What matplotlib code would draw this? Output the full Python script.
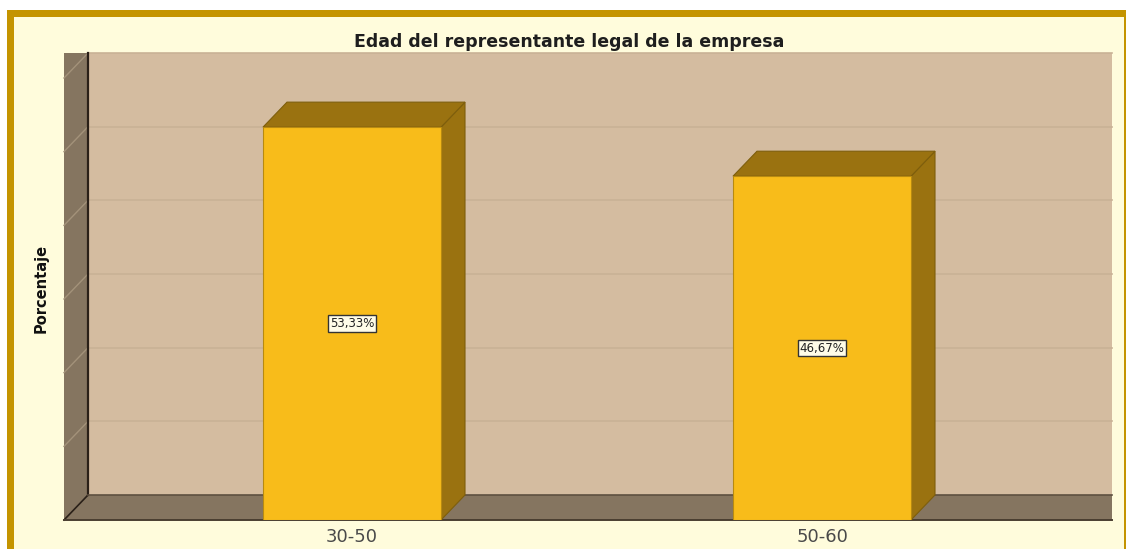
import matplotlib
matplotlib.use('Agg')
import matplotlib.pyplot as plt
from matplotlib.patches import Polygon, Rectangle

categorias = ['30-50', '50-60']
porcentajes = [53.33, 46.67]
etiquetas = ['53,33%', '46,67%']
titulo = 'Edad del representante legal de la empresa'
ylabel = 'Porcentaje'

W, H, DPI = 1126, 549, 100
fig = plt.figure(figsize=(W / DPI, H / DPI), dpi=DPI)
fig.patch.set_facecolor('white')

# marco dorado y fondo crema
fig.patches.append(Rectangle((7 / W, 0), (1126 - 7) / W, (549 - 10) / H,
                             transform=fig.transFigure, facecolor='#C49400',
                             edgecolor='none', zorder=-20))
fig.patches.append(Rectangle((14 / W, 0), (1124 - 14) / W, (549 - 17) / H,
                             transform=fig.transFigure, facecolor='#FFFCDC',
                             edgecolor='none', zorder=-10))

# ejes: frente del suelo en px 520, x de 64 a 1112
left, right, bottom, top = 64, 1112, 520, 78
ax = fig.add_axes([left / W, 1 - bottom / H, (right - left) / W, (bottom - top) / H])
ax.set_facecolor('none')
x = list(range(len(categorias)))
xmin = -(352 - left) / 470
xmax = 1 + (right - 822) / 470
ymax = 60
ax.set_xlim(xmin, xmax)
ax.set_ylim(0, ymax)
for s in ax.spines.values():
    s.set_visible(False)

# profundidad 3D en unidades de datos
ddx = 24 * (xmax - xmin) / (right - left)
ddy = 25 * ymax / (bottom - top)

wall = '#D4BCA0'
side = '#857560'
ax.add_patch(Rectangle((xmin + ddx, ddy), xmax - xmin - ddx, ymax, facecolor=wall,
                       edgecolor='none', zorder=1, clip_on=False))
ax.add_patch(Polygon([(xmin, 0), (xmin + ddx, ddy), (xmin + ddx, ymax + ddy), (xmin, ymax + ddy)],
                     closed=True, facecolor=side, edgecolor='none', zorder=1, clip_on=False))
ax.add_patch(Polygon([(xmin, 0), (xmax, 0), (xmax, ddy), (xmin + ddx, ddy)],
                     closed=True, facecolor=side, edgecolor='none', zorder=1, clip_on=False))

for v in range(10, ymax + 1, 10):
    ax.plot([xmin + ddx, xmax], [v + ddy, v + ddy], color='#C9B296', lw=1.2, zorder=2, clip_on=False)
    ax.plot([xmin, xmin + ddx], [v, v + ddy], color='#A3927A', lw=1, zorder=2, clip_on=False)

ax.plot([xmin + ddx, xmin + ddx], [ddy, ymax + ddy], color='#2A2018', lw=1.6, zorder=3, clip_on=False)
ax.plot([xmin, xmin + ddx], [0, ddy], color='#2A2018', lw=1.2, zorder=3, clip_on=False)
ax.plot([xmin + ddx, xmax], [ddy, ddy], color='#5E5040', lw=1.2, zorder=3, clip_on=False)
ax.plot([xmin, xmax], [0, 0], color='#4A3E30', lw=1.4, zorder=3, clip_on=False)

# barras
bw = 178 / 470
front = '#F8BC1A'
dark = '#9A7210'
ax.bar(x, porcentajes, width=bw, color=front, edgecolor='#B88A10', linewidth=0.8, zorder=5)
for xi, v, lab in zip(x, porcentajes, etiquetas):
    x0, x1 = xi - bw / 2, xi + bw / 2
    ax.add_patch(Polygon([(x1, 0), (x1 + ddx, ddy), (x1 + ddx, v + ddy), (x1, v)], closed=True,
                         facecolor=dark, edgecolor='#7E5E0C', lw=0.8, zorder=4))
    ax.add_patch(Polygon([(x0, v), (x1, v), (x1 + ddx, v + ddy), (x0 + ddx, v + ddy)], closed=True,
                         facecolor=dark, edgecolor='#7E5E0C', lw=0.8, zorder=4))
    ax.text(xi, v / 2, lab, ha='center', va='center', fontsize=8.5, color='#222222',
            family='DejaVu Sans', zorder=7,
            bbox=dict(boxstyle='square,pad=0.15', facecolor='#FFFCE8', edgecolor='#333333', lw=1))

ax.set_xticks(x)
ax.set_xticklabels(categorias, fontsize=13, color='#4A4A4A', family='DejaVu Sans')
ax.tick_params(axis='x', length=0, pad=6)
ax.set_yticks([])

fig.text(569 / W, 1 - 42 / H, titulo, ha='center', va='center', fontsize=12.5,
         fontweight='bold', color='#1E1E1E', family='DejaVu Sans')
fig.text(41 / W, 1 - 288 / H, ylabel, ha='center', va='center', rotation=90, fontsize=10.5,
         fontweight='bold', color='#111111', family='DejaVu Sans')

fig.savefig('out.png', dpi=DPI)
